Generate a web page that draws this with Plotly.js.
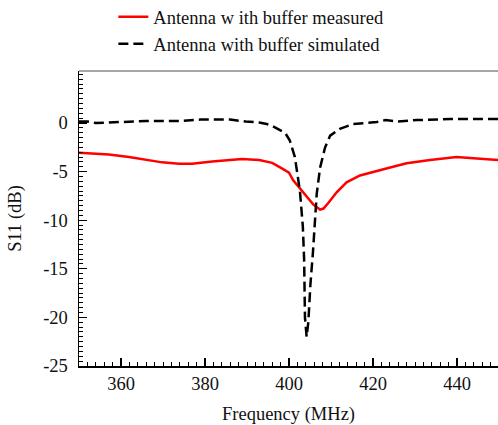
<!DOCTYPE html>
<html>
<head>
<meta charset="utf-8">
<script src="https://cdn.plot.ly/plotly-3.0.1.min.js"></script>
<style>html,body{margin:0;padding:0;background:#fff;}#chart{width:498px;height:425px;}</style>
</head>
<body>
<div id="chart"></div>
<script>
// Measured curve (MHz, dB)
const measFreq = [350, 352.4, 357.1, 361.9, 365.9, 369.8, 373.8, 376.9, 381.7, 385, 388.8, 392.9, 394.7, 396, 398.6, 400, 401, 403.4, 405.8, 407.4, 408.2, 409.4, 411.4, 413.7, 416.9, 422.5, 428, 433.6, 439.9, 444.7, 449.8];
const measDb   = [-3.05, -3.1, -3.25, -3.5, -3.8, -4.05, -4.2, -4.2, -3.95, -3.8, -3.7, -3.8, -3.95, -4.1, -4.75, -5.1, -5.9, -7.1, -8.4, -8.9, -8.8, -8.2, -7.1, -6.1, -5.4, -4.75, -4.15, -3.8, -3.5, -3.65, -3.8];
// Simulated curve (MHz, dB)
const simFreq = [350, 352, 354, 357.9, 361, 365.9, 373.8, 379, 383, 386, 389.7, 392.9, 394.7, 396, 398.6, 399.2, 400.2, 401.4, 402.6, 403.3, 403.6, 403.8, 404.2, 404.6, 405.1, 405.7, 406.6, 407.4, 408.6, 409.8, 412.1, 415.3, 420.9, 423, 425.6, 430.4, 438.3, 449.8];
const simDb   = [0.15, 0.15, 0.0, 0.05, 0.1, 0.2, 0.2, 0.35, 0.35, 0.35, 0.15, 0.05, -0.1, -0.3, -0.9, -1.1, -1.8, -3.5, -7.0, -10.7, -14.0, -20.0, -22.0, -20.5, -16.6, -13.3, -7.3, -4.6, -2.5, -1.3, -0.6, -0.1, 0.1, 0.3, 0.15, 0.3, 0.4, 0.4];
const xTickVals = [360, 380, 400, 420, 440];
const yTickVals = [0, -5, -10, -15, -20, -25];

const serif = '"Liberation Serif", "Times New Roman", "DejaVu Serif", serif';

const traces = [
  {x: measFreq, y: measDb, type: 'scatter', mode: 'lines', name: 'Antenna w ith buffer measured',
   legendgroup: 'a', line: {color: '#ff0000', width: 2.5}},
  {x: simFreq, y: simDb, type: 'scatter', mode: 'lines', name: 'Antenna with buffer simulated',
   legendgroup: 'b', line: {color: '#000000', width: 2.5, dash: '10px,5px'}}
];

const layout = {
  width: 498, height: 425,
  margin: {l: 79, r: 0, t: 71, b: 59, autoexpand: false},
  paper_bgcolor: '#fff', plot_bgcolor: '#fff',
  showlegend: true,
  legend: {x: 0.082, xref: 'paper', xanchor: 'left', y: 1.247, yanchor: 'top', yref: 'paper',
           font: {family: serif, size: 18.5, color: '#111'}, traceorder: 'grouped', tracegroupgap: 0,
           bgcolor: 'rgba(0,0,0,0)'},
  xaxis: {
    range: [350, 449.76], tickvals: xTickVals, ticktext: xTickVals.map(String),
    ticks: 'inside', ticklen: 8, tickwidth: 1.2, tickcolor: '#000',
    minor: {dtick: 2, tick0: 350, ticks: 'inside', ticklen: 4, tickcolor: '#000', tickwidth: 1},
    showline: true, linecolor: '#000', linewidth: 1.5, showgrid: false, zeroline: false,
    tickfont: {family: serif, size: 18.5, color: '#111'}, tickangle: 0,
    title: {text: 'Frequency (MHz)', font: {family: serif, size: 18.5, color: '#111'}, standoff: 14}
  },
  yaxis: {
    range: [-25, 5.35], tickvals: yTickVals, ticktext: yTickVals.map(String),
    ticks: 'inside', ticklen: 8, tickwidth: 1.2, tickcolor: '#000',
    minor: {dtick: 0.5, tick0: 0, ticks: 'inside', ticklen: 4, tickcolor: '#000', tickwidth: 1},
    showline: true, linecolor: '#000', linewidth: 1.5, showgrid: false, zeroline: false,
    tickfont: {family: serif, size: 18.5, color: '#111'}, ticklabelstandoff: 6,
    title: {text: 'S11 (dB)', font: {family: serif, size: 18.5, color: '#111'}, standoff: 16}
  },
  shapes: [
    {type: 'line', xref: 'paper', yref: 'paper', x0: 0, x1: 1, y0: 1, y1: 1, line: {color: '#888', width: 1.5}}
  ]
};

Plotly.newPlot('chart', traces, layout, {displayModeBar: false, staticPlot: true});
</script>
</body>
</html>
